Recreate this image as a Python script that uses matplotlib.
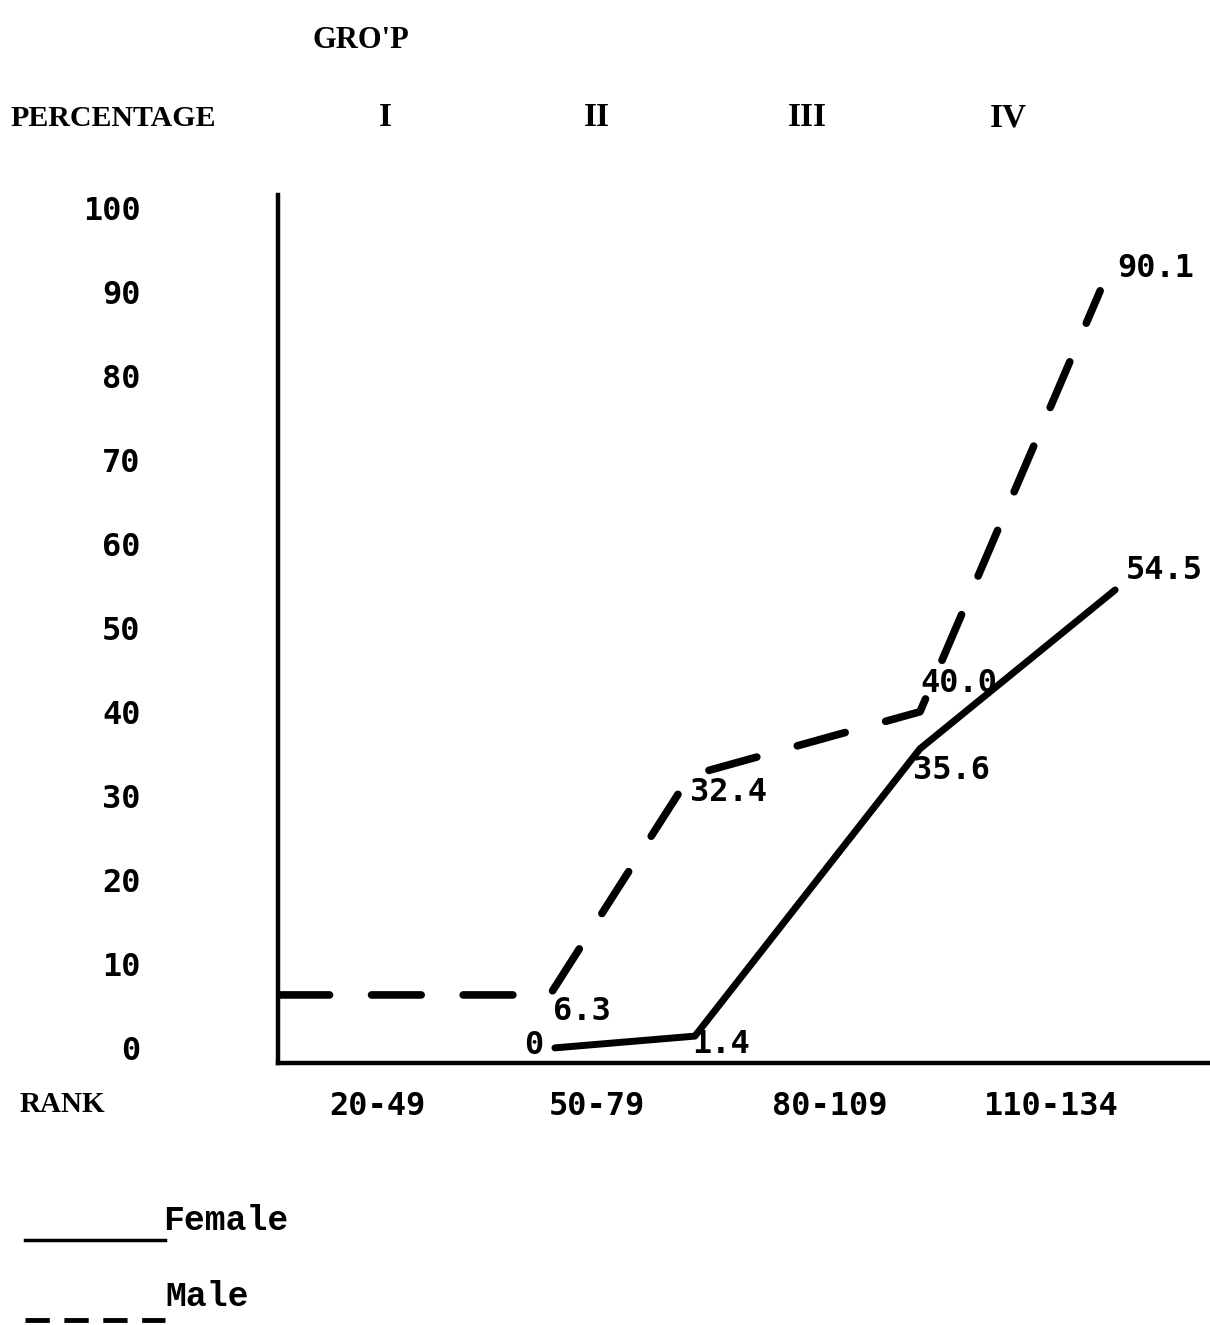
import matplotlib
matplotlib.use("Agg")
import matplotlib.pyplot as plt
import matplotlib.transforms as mtrans
from matplotlib.lines import Line2D

# values
groups = ["I", "II", "III", "IV"]
group_pos = [1.0, 2.02, 3.03, 3.995]
rank_labels = ["20-49", "50-79", "80-109", "110-134"]
rank_pos = [0.966, 2.02, 3.14, 4.2]

male_x = [0.495, 1.793, 2.466, 3.572, 4.438]
male_y = [6.3, 6.3, 32.4, 40.0, 90.1]
male_lbl = [None, "6.3", "32.4", "40.0", "90.1"]

female_x = [1.817, 2.49, 3.572, 4.51]
female_y = [0.0, 1.4, 35.6, 54.5]
female_lbl = ["0", "1.4", "35.6", "54.5"]

yticks = list(range(0, 101, 10))

W, H = 1210, 1325
num_font = "DejaVu Sans Mono"
head_font = "Liberation Serif"

fig = plt.figure(figsize=(W / 100, H / 100), dpi=100)
ax = fig.add_axes([278 / W, 262 / H, (W - 278) / W, (1130 - 262) / H])

ax.plot(male_x, male_y, color="black", lw=5.5, dashes=(6.5, 5.5),
        solid_capstyle="round", dash_capstyle="round")
ax.plot(female_x, female_y, color="black", lw=5, solid_capstyle="round")

# point labels, offsets in points
male_off = [None, (2, -12), (0, -12), (0, 20), (12, 16)]
for x, y, t, o in zip(male_x, male_y, male_lbl, male_off):
    if t is None:
        continue
    ax.annotate(t, (x, y), xytext=o, textcoords="offset points",
                ha="left", va="center", fontsize=23, fontweight="bold",
                family=num_font)
fem_off = [(-8, 2), (-2, -6), (-5, -16), (8, 14)]
fem_ha = ["right", "left", "left", "left"]
for x, y, t, o, h in zip(female_x, female_y, female_lbl, fem_off, fem_ha):
    ax.annotate(t, (x, y), xytext=o, textcoords="offset points",
                ha=h, va="center", fontsize=23, fontweight="bold",
                family=num_font)

ax.set_xlim(0.486, 4.966)
ax.set_ylim(-1.8, 101.5)
for s in ["top", "right"]:
    ax.spines[s].set_visible(False)
for s in ["left", "bottom"]:
    ax.spines[s].set_linewidth(3.2)

ax.set_yticks(yticks)
ax.set_yticklabels([str(v) for v in yticks], fontsize=23, fontweight="bold",
                   family=num_font)
ax.tick_params(axis="y", length=0, pad=99)
ax.set_xticks(rank_pos)
ax.set_xticklabels(rank_labels, fontsize=23, fontweight="bold", family=num_font)
ax.tick_params(axis="x", length=0, pad=20)

# header texts
fig.text(313 / W, 1 - 40 / H, "GRO'P", fontsize=22, fontweight="bold",
         family=head_font, ha="left", va="center")
fig.text(10 / W, 1 - 118 / H, "PERCENTAGE", fontsize=21.5, fontweight="bold",
         family=head_font, ha="left", va="center")
top_tr = mtrans.blended_transform_factory(ax.transData, fig.transFigure)
for g, p in zip(groups, group_pos):
    ax.text(p, 1 - 118 / H, g, transform=top_tr,
            fontsize=24, fontweight="bold", family=head_font,
            ha="center", va="center")
fig.text(20 / W, 1 - 1105 / H, "RANK", fontsize=21, fontweight="bold",
         family=head_font, ha="left", va="center")

# key, typed under the chart
fig.add_artist(Line2D([25 / W, 165 / W], [1 - 1240 / H, 1 - 1240 / H],
                      color="black", lw=2.5, transform=fig.transFigure))
fig.text(163 / W, 1 - 1220 / H, "Female", fontsize=25, fontweight="bold",
         family="Liberation Mono", ha="left", va="center")
fig.add_artist(Line2D([25 / W, 165 / W], [1 - 1320 / H, 1 - 1320 / H],
                      color="black", lw=3.5, dashes=(5, 3),
                      transform=fig.transFigure))
fig.text(165 / W, 1 - 1297 / H, "Male", fontsize=25, fontweight="bold",
         family="Liberation Mono", ha="left", va="center")

fig.savefig("out.png", dpi=100)
